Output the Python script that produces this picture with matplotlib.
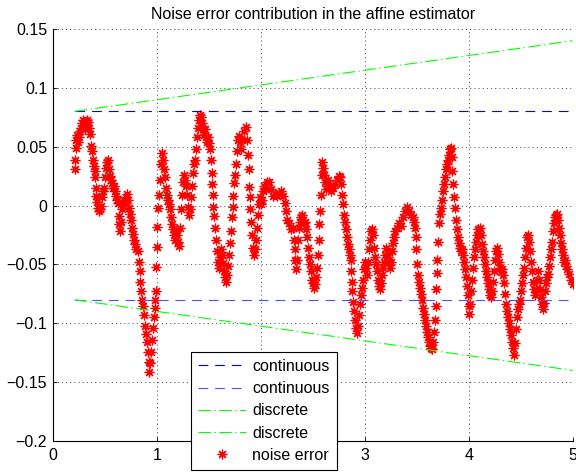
import matplotlib
matplotlib.use('Agg')
import matplotlib.pyplot as plt

plt.rcParams['font.family'] = ['Liberation Sans', 'DejaVu Sans']
plt.rcParams['font.size'] = 11.5
plt.rcParams['lines.scale_dashes'] = False

# bounds
t_start, t_end = 0.21, 5.0
cont_bound = 0.08
disc_bound = [0.08, 0.14]  # at t_start, t_end

# noise error samples
noise_t = [
    0.212, 0.212, 0.221, 0.221, 0.231, 0.240, 0.250, 0.260, 0.269, 0.279,
    0.288, 0.298, 0.308, 0.317, 0.327, 0.337, 0.346, 0.356, 0.365, 0.375,
    0.385, 0.394, 0.404, 0.404, 0.413, 0.413, 0.423, 0.433, 0.442, 0.452,
    0.462, 0.471, 0.481, 0.490, 0.500, 0.510, 0.519, 0.529, 0.538, 0.548,
    0.558, 0.567, 0.577, 0.587, 0.596, 0.606, 0.615, 0.625, 0.635, 0.635,
    0.644, 0.654, 0.663, 0.673, 0.683, 0.692, 0.702, 0.712, 0.721, 0.731,
    0.740, 0.750, 0.760, 0.769, 0.779, 0.788, 0.798, 0.817, 0.827, 0.837,
    0.837, 0.846, 0.856, 0.865, 0.875, 0.885, 0.894, 0.904, 0.913, 0.923,
    0.923, 0.933, 0.942, 0.952, 0.962, 0.971, 0.981, 0.981, 0.990, 0.990,
    1.000, 1.000, 1.010, 1.019, 1.029, 1.038, 1.048, 1.058, 1.067, 1.077,
    1.087, 1.096, 1.106, 1.115, 1.125, 1.135, 1.144, 1.154, 1.163,
    1.173, 1.183, 1.192, 1.202, 1.212, 1.221, 1.231, 1.240, 1.250, 1.260,
    1.269, 1.279, 1.288, 1.298, 1.308, 1.317, 1.327, 1.337, 1.346, 1.356,
    1.365, 1.375, 1.385, 1.394, 1.404, 1.413, 1.423, 1.433, 1.442, 1.452,
    1.462, 1.471, 1.481, 1.490, 1.500, 1.510, 1.519, 1.529, 1.529, 1.538,
    1.538, 1.548, 1.558, 1.567, 1.577, 1.587, 1.596, 1.606, 1.615, 1.625,
    1.635, 1.644, 1.654, 1.663, 1.673, 1.683, 1.692, 1.702, 1.712, 1.721,
    1.731, 1.731, 1.740, 1.750, 1.760, 1.769, 1.779, 1.788, 1.798, 1.808,
    1.817, 1.837, 1.856, 1.865, 1.875, 1.885, 1.885, 1.894, 1.894, 1.904,
    1.913, 1.923, 1.933, 1.942, 1.952, 1.962, 1.971, 1.981, 1.990, 2.000,
    2.010, 2.019, 2.029, 2.048, 2.058, 2.077, 2.096, 2.115, 2.135, 2.154,
    2.173, 2.192, 2.212, 2.231, 2.240, 2.250, 2.269, 2.288, 2.308, 2.317,
    2.327, 2.327, 2.337, 2.346, 2.356, 2.365, 2.375, 2.385, 2.394, 2.404,
    2.413, 2.423, 2.433, 2.442, 2.452, 2.462, 2.471, 2.481, 2.490, 2.500,
    2.510, 2.519, 2.529, 2.538, 2.548, 2.558, 2.558, 2.567, 2.577, 2.587,
    2.587, 2.596, 2.606, 2.615, 2.625, 2.635, 2.644, 2.654, 2.673, 2.692,
    2.712, 2.731, 2.750, 2.760, 2.769, 2.779, 2.788, 2.798, 2.808, 2.817,
    2.827, 2.837, 2.846, 2.856, 2.865, 2.865, 2.875, 2.875, 2.885, 2.894,
    2.904, 2.913, 2.923, 2.933, 2.942, 2.952, 2.962, 2.971, 2.981, 2.990,
    3.000, 3.010, 3.019, 3.029, 3.038, 3.048, 3.058, 3.067, 3.077, 3.087,
    3.096, 3.106, 3.115, 3.125, 3.135, 3.144, 3.154, 3.163, 3.173, 3.183,
    3.192, 3.202, 3.212, 3.221, 3.231, 3.240, 3.250, 3.260, 3.269, 3.279,
    3.288, 3.308, 3.327, 3.346, 3.365, 3.385, 3.404, 3.423, 3.442, 3.462,
    3.471, 3.481, 3.490, 3.490, 3.500, 3.510, 3.519, 3.529, 3.538, 3.548,
    3.558, 3.567, 3.577, 3.587, 3.596, 3.606, 3.615, 3.625, 3.635, 3.644,
    3.654, 3.663, 3.673, 3.683, 3.683, 3.692, 3.692, 3.702, 3.712, 3.721,
    3.731, 3.740, 3.750, 3.760, 3.769, 3.779, 3.788, 3.798, 3.808, 3.817,
    3.827, 3.837, 3.837, 3.846, 3.856, 3.865, 3.875, 3.885, 3.894, 3.904,
    3.913, 3.923, 3.933, 3.942, 3.952, 3.962, 3.971, 3.981, 3.990, 4.000,
    4.000, 4.010, 4.019, 4.029, 4.038, 4.048, 4.058, 4.067, 4.077, 4.087,
    4.106, 4.115, 4.125, 4.135, 4.144, 4.154, 4.163, 4.173, 4.183, 4.192,
    4.202, 4.212, 4.221, 4.231, 4.240, 4.250, 4.260, 4.269, 4.279, 4.288,
    4.298, 4.308, 4.317, 4.327, 4.337, 4.346, 4.356, 4.365, 4.375, 4.385,
    4.394, 4.404, 4.413, 4.423, 4.433, 4.442, 4.452, 4.462, 4.471, 4.481,
    4.490, 4.500, 4.510, 4.519, 4.529, 4.538, 4.548, 4.558, 4.567, 4.577,
    4.587, 4.596, 4.606, 4.615, 4.625, 4.635, 4.644, 4.654, 4.663, 4.673,
    4.683, 4.692, 4.702, 4.712, 4.721, 4.731, 4.740, 4.750, 4.760, 4.769,
    4.779, 4.788, 4.798, 4.808, 4.817, 4.827, 4.837, 4.846, 4.856, 4.865,
    4.875, 4.885, 4.894, 4.904, 4.913, 4.923, 4.933, 4.942, 4.962, 4.981,
    5.000,
]
noise_err = [
    0.031, 0.039, 0.049, 0.056, 0.060, 0.054, 0.058, 0.063, 0.066, 0.070,
    0.073, 0.068, 0.065, 0.070, 0.073, 0.071, 0.066, 0.061, 0.051, 0.046,
    0.039, 0.034, 0.029, 0.024, 0.015, 0.008, 0.003, -0.002, -0.005, -0.003,
    0.000, 0.007, 0.012, 0.015, 0.024, 0.032, 0.037, 0.039, 0.031, 0.025,
    0.022, 0.019, 0.015, 0.017, 0.012, 0.008, 0.005, 0.002, -0.009, -0.016,
    -0.022, -0.014, -0.003, 0.002, 0.005, 0.001, 0.007, 0.010, 0.005, -0.002,
    -0.007, -0.012, -0.019, -0.024, -0.029, -0.033, -0.037, -0.039, -0.048, -0.056,
    -0.065, -0.073, -0.080, -0.085, -0.093, -0.102, -0.109, -0.116, -0.124, -0.133,
    -0.141, -0.134, -0.124, -0.114, -0.104, -0.095, -0.087, -0.080, -0.073, -0.052,
    -0.035, -0.018, -0.002, 0.009, 0.022, 0.035, 0.045, 0.039, 0.031, 0.024,
    0.015, 0.009, 0.005, 0.001, -0.003, -0.010, -0.016, -0.020, -0.025,
    -0.029, -0.022, -0.025, -0.031, -0.034, -0.019, -0.003, 0.009, 0.020, 0.026,
    0.022, 0.017, 0.009, -0.001, -0.008, -0.003, 0.007, 0.017, 0.028, 0.035,
    0.039, 0.048, 0.058, 0.066, 0.073, 0.077, 0.075, 0.070, 0.065, 0.060,
    0.065, 0.058, 0.054, 0.058, 0.053, 0.048, 0.039, 0.028, 0.018, 0.009,
    -0.001, -0.009, -0.019, -0.029, -0.039, -0.048, -0.053, -0.044, -0.037, -0.042,
    -0.049, -0.056, -0.061, -0.065, -0.059, -0.051, -0.042, -0.032, -0.022, -0.010,
    -0.001, 0.008, 0.019, 0.026, 0.035, 0.046, 0.056, 0.059, 0.054, 0.048,
    0.056, 0.063, 0.067, 0.056, 0.043, 0.031, 0.016, 0.007, -0.003, -0.014,
    -0.025, -0.036, -0.042, -0.037, -0.029, -0.019, -0.008, 0.001, 0.007, 0.001,
    0.005, 0.012, 0.017, 0.014, 0.020, 0.020, 0.014, 0.008, 0.010, 0.008,
    0.011, 0.012, 0.008, 0.002, -0.005, -0.012, -0.015, -0.020, -0.019, -0.029,
    -0.037, -0.046, -0.054, -0.046, -0.029, -0.019, -0.014, -0.010, -0.008, -0.012,
    -0.015, -0.014, -0.020, -0.027, -0.036, -0.044, -0.050, -0.056, -0.063, -0.066,
    -0.070, -0.067, -0.061, -0.053, -0.042, -0.029, -0.016, -0.005, 0.009, 0.026,
    0.037, 0.032, 0.026, 0.020, 0.014, 0.017, 0.022, 0.016, 0.012, 0.015,
    0.018, 0.022, 0.025, 0.024, 0.018, 0.009, 0.001, -0.008, -0.014, -0.020,
    -0.027, -0.033, -0.037, -0.042, -0.046, -0.056, -0.065, -0.073, -0.082, -0.090,
    -0.097, -0.104, -0.108, -0.102, -0.093, -0.084, -0.076, -0.070, -0.063, -0.054,
    -0.048, -0.053, -0.059, -0.048, -0.037, -0.029, -0.022, -0.020, -0.025, -0.036,
    -0.044, -0.050, -0.056, -0.063, -0.068, -0.071, -0.066, -0.059, -0.053, -0.048,
    -0.042, -0.036, -0.039, -0.044, -0.048, -0.053, -0.048, -0.039, -0.032, -0.027,
    -0.022, -0.019, -0.015, -0.017, -0.010, -0.005, -0.001, -0.005, -0.008, -0.010,
    -0.014, -0.019, -0.027, -0.037, -0.050, -0.059, -0.065, -0.070, -0.075, -0.080,
    -0.087, -0.092, -0.097, -0.102, -0.107, -0.112, -0.116, -0.119, -0.121, -0.122,
    -0.116, -0.107, -0.097, -0.085, -0.071, -0.057, -0.046, -0.031, -0.015, -0.007,
    -0.002, 0.005, 0.012, 0.018, 0.024, 0.031, 0.035, 0.039, 0.043, 0.048,
    0.049, 0.041, 0.029, 0.018, 0.007, -0.002, -0.012, -0.020, -0.027, -0.032,
    -0.036, -0.039, -0.037, -0.042, -0.048, -0.054, -0.061, -0.068, -0.076, -0.085,
    -0.092, -0.084, -0.073, -0.063, -0.053, -0.044, -0.037, -0.031, -0.025, -0.020,
    -0.019, -0.025, -0.033, -0.039, -0.044, -0.050, -0.056, -0.061, -0.066, -0.071,
    -0.076, -0.078, -0.073, -0.065, -0.056, -0.046, -0.039, -0.036, -0.041, -0.048,
    -0.053, -0.056, -0.054, -0.059, -0.066, -0.075, -0.084, -0.090, -0.095, -0.100,
    -0.105, -0.110, -0.116, -0.121, -0.127, -0.117, -0.105, -0.095, -0.088, -0.084,
    -0.080, -0.073, -0.066, -0.059, -0.053, -0.044, -0.036, -0.027, -0.025, -0.031,
    -0.039, -0.048, -0.056, -0.065, -0.071, -0.076, -0.071, -0.063, -0.056, -0.063,
    -0.071, -0.078, -0.084, -0.088, -0.083, -0.073, -0.066, -0.061, -0.058, -0.051,
    -0.044, -0.037, -0.031, -0.022, -0.015, -0.010, -0.008, -0.007, -0.012, -0.019,
    -0.025, -0.032, -0.037, -0.042, -0.048, -0.046, -0.051, -0.054, -0.058, -0.063,
    -0.067,
]

x_ticks = [0, 1, 2, 3, 4, 5]
y_ticks = [0.15, 0.1, 0.05, 0, -0.05, -0.1, -0.15, -0.2]
y_tick_labels = ['0.15', '0.1', '0.05', '0', '\u22120.05', '\u22120.1', '\u22120.15', '\u22120.2']

fig = plt.figure(figsize=(5.76, 4.75), dpi=100)
ax = fig.add_axes([0.0915, 0.0716, 0.9028, 0.8674])

ts = [t_start, t_end]
ax.plot(ts, [cont_bound, cont_bound], color='#0000ff', lw=0.8, dashes=(7, 5),
        label='continuous', zorder=3)
ax.plot(ts, [-cont_bound, -cont_bound], color='#5050ff', lw=0.8, dashes=(7, 5),
        label='continuous', zorder=3)
ax.plot(ts, disc_bound, color='#00ff00', lw=0.8, dashes=(9, 2.5, 1, 2.5),
        label='discrete', zorder=3)
ax.plot(ts, [-b for b in disc_bound], color='#00ff00', lw=0.8, dashes=(9, 2.5, 1, 2.5),
        label='discrete', zorder=3)
ax.plot(noise_t, noise_err, linestyle='none', marker=(8, 2, 0), ms=7, mew=0.9,
        color='#ff0000', label='noise error', zorder=2)

ax.set_xlim(0, 5)
ax.set_ylim(-0.2, 0.15)
ax.set_xticks(x_ticks)
ax.set_xticklabels([str(v) for v in x_ticks])
ax.set_yticks(y_ticks)
ax.set_yticklabels(y_tick_labels)

ax.grid(True, color='0.25', lw=0.6, linestyle=(0, (0.8, 2.2)))
ax.set_axisbelow(True)
for side in ['top', 'right']:
    ax.spines[side].set_visible(False)
for side in ['left', 'bottom']:
    ax.spines[side].set_linewidth(0.8)
ax.tick_params(direction='in', length=3, width=0.6, pad=4)
ax.tick_params(axis='x', pad=5)

ax.set_title('Noise error contribution in the affine estimator', fontsize=11.5, pad=7)

# legend box sits over the x axis, as in the reference
leg = ax.legend(loc='lower left', bbox_to_anchor=(191 / 576, 5 / 475),
                bbox_transform=fig.transFigure, fancybox=False, edgecolor='k',
                framealpha=1, borderpad=0.45, labelspacing=0.45, handlelength=3.0,
                handletextpad=0.4, borderaxespad=0, numpoints=1)
leg.get_frame().set_linewidth(0.8)

fig.savefig('out.png', dpi=100)
